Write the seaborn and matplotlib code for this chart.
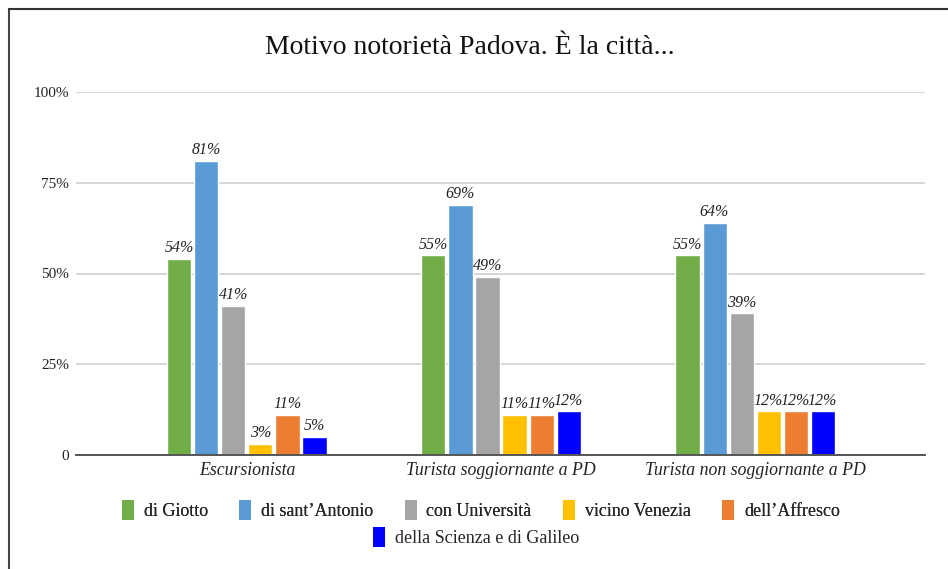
import matplotlib
matplotlib.use("Agg")
import matplotlib.pyplot as plt
import seaborn as sns
import pandas as pd
from matplotlib.patches import Patch
from matplotlib.lines import Line2D

categories = ["Escursionista", "Turista soggiornante a PD", "Turista non soggiornante a PD"]
series = ["di Giotto", "di sant\u2019Antonio", "con Universit\u00e0", "vicino Venezia",
          "dell\u2019Affresco", "della Scienza e di Galileo"]
di_giotto = [54, 55, 55]
di_santantonio = [81, 69, 64]
con_universita = [41, 49, 39]
vicino_venezia = [3, 11, 12]
dell_affresco = [11, 11, 12]
della_scienza = [5, 12, 12]
colors = ["#70AD47", "#5B9BD5", "#A5A5A5", "#FFC000", "#ED7D31", "#0000FF"]
yticks = [0, 25, 50, 75, 100]
yticklabels = ["0", "25%", "50%", "75%", "100%"]
title = "Motivo notoriet\u00e0 Padova. \u00c8 la citt\u00e0..."

values = [di_giotto, di_santantonio, con_universita, vicino_venezia, dell_affresco, della_scienza]
rows = []
for s, vals in zip(series, values):
    for c, v in zip(categories, vals):
        rows.append({"cat": c, "series": s, "val": v})
df = pd.DataFrame(rows)

sns.set_style("white")
plt.rcParams["font.family"] = ["Liberation Serif", "DejaVu Serif"]

fig = plt.figure(figsize=(9.48, 5.69), dpi=100)
ax = fig.add_axes([76/948, 1-455/569, (925-76)/948, (455-92)/569])

sns.barplot(data=df, x="cat", y="val", hue="series", hue_order=series, order=categories,
            palette=colors, width=0.638, gap=0.11, ax=ax, legend=False, saturation=1)

for cont in ax.containers:
    ax.bar_label(cont, labels=[f"{b.get_height():.0f}%" for b in cont], padding=2,
                 fontsize=11.5, fontstyle="italic", color="#222222")

ax.set_ylim(0, 100)
ax.set_xlim(-0.673, 2.669)
ax.set_yticks(yticks)
ax.set_yticklabels(yticklabels, fontsize=11, color="#222222")
ax.set_xticks(range(len(categories)))
ax.set_xticklabels(categories, fontsize=12.8, fontstyle="italic", color="#222222")
ax.tick_params(axis="both", length=0)
ax.tick_params(axis="y", pad=5)
ax.tick_params(axis="x", pad=5)
ax.set_xlabel("")
ax.set_ylabel("")
ax.yaxis.grid(True, color="#d0d0d0", linewidth=1.2)
ax.set_axisbelow(True)
for sp in ["left", "right", "top"]:
    ax.spines[sp].set_visible(False)
ax.spines["bottom"].set_color("#555555")
ax.spines["bottom"].set_linewidth(1.4)
ax.spines["bottom"].set_zorder(5)

fig.text(470/948, 1-48/569, title, ha="center", va="center", fontsize=20, color="#111111")

handles = [Patch(facecolor=c, edgecolor="none") for c in colors]
leg1 = fig.legend(handles[:5], series[:5], ncol=5, loc="center", bbox_to_anchor=(481/948, 1-510/569),
                  frameon=False, fontsize=13, handlelength=0.65, handleheight=1.3,
                  handletextpad=0.55, columnspacing=1.75)
leg2 = fig.legend(handles[5:], series[5:], ncol=1, loc="center", bbox_to_anchor=(476/948, 1-537/569),
                  frameon=False, fontsize=13, handlelength=0.65, handleheight=1.3,
                  handletextpad=0.55)
fig.add_artist(leg1)

fig.add_artist(Line2D([8.5/948, 8.5/948], [0, 1-9/569], transform=fig.transFigure, color="#444444", linewidth=1.5))
fig.add_artist(Line2D([8.5/948, 1], [1-9/569, 1-9/569], transform=fig.transFigure, color="#333333", linewidth=1.5))

fig.savefig("out.png", dpi=100)
